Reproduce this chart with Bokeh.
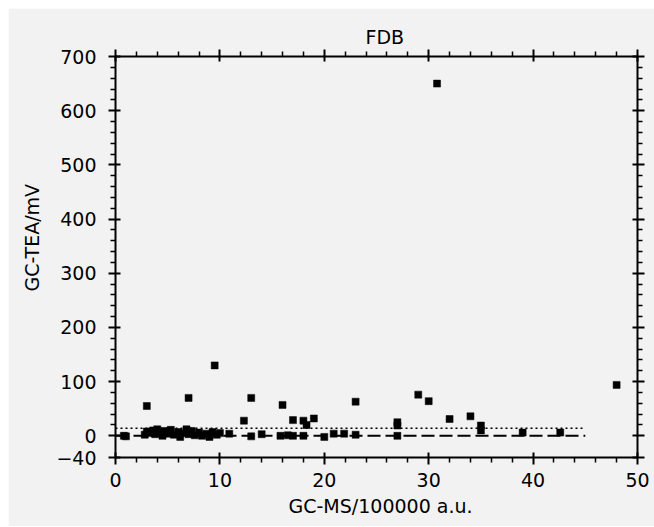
from bokeh.plotting import figure
from bokeh.models import (LinearAxis, FixedTicker, Range1d, Title,
                          ColumnDataSource, CustomJSTickFormatter)
from bokeh.embed import file_html
from bokeh.resources import INLINE

# ---- data ----
gcms = [0.8, 1.0,
        2.8, 3.0, 3.0, 3.3, 3.6, 3.8, 4.0, 4.2, 4.5, 4.7, 5.0, 5.3, 5.6, 6.0, 6.2,
        6.5, 6.8, 7.0, 7.0, 7.3, 7.6, 8.0, 8.3, 8.7, 9.0, 9.3, 9.5, 9.7, 10.0,
        10.9, 12.3, 13.0, 13.0, 14.0, 15.8, 16.0, 16.5, 17.0, 17.0, 18.0, 18.3,
        18.0, 19.0, 20.0, 20.9, 21.9, 23.0, 23.0, 27.0, 27.0, 27.0, 29.0, 30.0,
        30.8, 32.0, 34.0, 35.0, 35.0, 39.0, 42.6, 48.0]
gctea = [0, -1,
         2, 55, 8, 5, 10, 3, 12, 6, 0, 9, 4, 11, 2, 7, -2,
         5, 12, 70, 3, 9, 1, 6, 0, 4, -2, 7, 130, 2, 5,
         4, 28, 70, -1, 3, 0, 57, 1, 29, 0, 28, 20,
         0, 32, -2, 4, 4, 63, 2, 25, 19, 0, 76, 64,
         650, 31, 36, 19, 10, 6, 6, 94]
ref_x = [0, 45]
zero_level = [0, 0]
limit_level = [14, 14]

x_ticks = [0, 10, 20, 30, 40, 50]
x_minor = [v for v in range(2, 50, 2) if v % 10 != 0]
y_ticks = [-40, 0, 100, 200, 300, 400, 500, 600, 700]
y_minor = [v for v in range(20, 700, 20) if v % 100 != 0]

title_text = "FDB"
x_label_text = "GC-MS/100000 a.u."
y_label_text = "GC-TEA/mV"

BG = "#f2f2f2"
FONT = "DejaVu Sans"
FS = "19px"

p = figure(frame_width=522, frame_height=401,
           x_range=Range1d(0, 50), y_range=Range1d(-40, 700),
           output_backend="svg", toolbar_location=None,
           background_fill_color=BG, border_fill_color=BG,
           min_border_left=107, min_border_right=17,
           min_border_top=48, min_border_bottom=69,
           x_axis_location=None, y_axis_location=None)
p.margin = (8, 0, 0, 8)
p.outline_line_color = None
p.grid.visible = False

xt = FixedTicker(ticks=x_ticks, minor_ticks=x_minor)
yt = FixedTicker(ticks=y_ticks, minor_ticks=y_minor)
blank = CustomJSTickFormatter(code="return ''")

def style(ax, labels=True):
    ax.axis_line_width = 2
    ax.axis_line_color = "black"
    ax.major_tick_line_width = 2
    ax.minor_tick_line_width = 1.5
    ax.major_tick_line_color = "black"
    ax.minor_tick_line_color = "black"
    ax.major_tick_in = 5
    ax.major_tick_out = 7
    ax.minor_tick_in = 0
    ax.minor_tick_out = 5
    ax.major_label_text_font = FONT
    ax.major_label_text_font_size = FS
    ax.major_label_text_color = "black"
    if not labels:
        ax.formatter = blank
        ax.major_label_text_font_size = "0px"
        ax.major_label_standoff = 0

xb = LinearAxis(ticker=xt)
style(xb)
xb.major_label_standoff = 8
p.add_layout(xb, "below")

xa = LinearAxis(ticker=xt)
style(xa, labels=False)
p.add_layout(xa, "above")

yl = LinearAxis(ticker=yt)
style(yl)
yl.major_label_standoff = 12
p.add_layout(yl, "left")

yr = LinearAxis(ticker=yt)
style(yr, labels=False)
p.add_layout(yr, "right")

def side_title(text, offset, standoff):
    return Title(text=text, align="left", offset=offset, standoff=standoff,
                 vertical_align="middle", text_font=FONT, text_font_size=FS,
                 text_font_style="normal", text_color="black")

p.add_layout(side_title(title_text, 250, 2), "above")
p.add_layout(side_title(x_label_text, 173, 8), "below")
p.add_layout(side_title(y_label_text, 166, 20), "left")

# reference levels
p.line(ref_x, limit_level, line_color="black", line_width=1.5, line_dash="2 3")
p.line(ref_x, zero_level, line_color="black", line_width=2, line_dash="13 5")

src = ColumnDataSource(dict(x=gcms, y=gctea))
p.scatter("x", "y", source=src, marker="square", size=7,
          fill_color="black", line_color="black", line_width=0.5)

open("out.html", "w").write(file_html(p, INLINE))
